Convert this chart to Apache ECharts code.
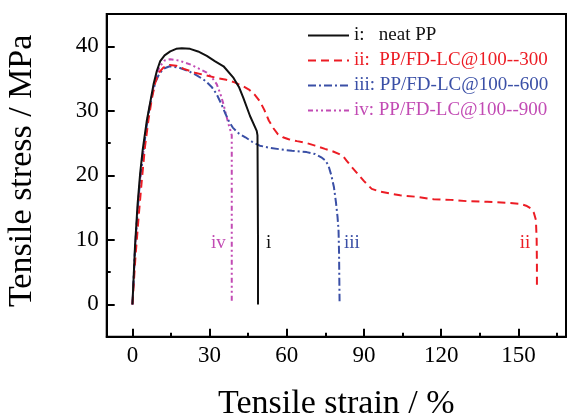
<!DOCTYPE html>
<html>
<head>
<meta charset="utf-8">
<script src="https://cdn.jsdelivr.net/npm/echarts@6/dist/echarts.min.js"></script>
<style>
  html, body { margin: 0; padding: 0; background: #fff; }
  #chart { width: 567px; height: 415px; }
</style>
</head>
<body>
<div id="chart"></div>
<script>
// strain (%) / stress (MPa)
const neatPP = [
  [0, 0], [1, 9], [2, 15.5], [3, 20.3], [4, 24], [5.6, 28.5], [7, 31.5], [8.2, 34.1],
  [9.5, 36.2], [10.8, 37.7], [12.5, 38.6], [14.7, 39.2], [17, 39.6], [19.2, 39.7],
  [22.4, 39.6], [25.5, 39.2], [28.9, 38.5], [32, 37.7], [35.4, 36.9], [39.3, 35.1],
  [41.5, 33.6], [43.1, 32.0], [45.7, 29.2], [48.3, 26.9], [48.6, 26.2], [48.8, 10], [48.8, 0]
];
const lc300 = [
  [0, 0], [1.2, 7.5], [2.5, 14], [3.7, 19.5], [4.9, 24.5], [6.3, 28.8], [7.6, 32], [8.9, 34.4],
  [10.3, 35.9], [12, 36.7], [14.5, 37.1], [17, 37.0], [20, 36.5], [24.3, 35.9], [28.5, 35.5],
  [32.7, 35.1], [36.5, 34.8], [39.7, 34.4], [42.5, 33.9], [45.3, 33.3], [47.5, 32.5],
  [49.5, 31.5], [51.3, 30.1], [53, 28.5], [54.8, 27.3], [56.5, 26.4], [58.5, 25.9],
  [60.7, 25.6], [64, 25.3], [67.7, 25.0], [71, 24.6], [74.8, 24.1], [78, 23.7], [80.4, 23.3],
  [82, 22.9], [83.2, 22.3], [85, 21.4], [87.4, 20.3], [90, 19.1], [93, 17.9], [96, 17.5],
  [100, 17.2], [104, 16.9], [109.8, 16.7], [117, 16.3], [123.8, 16.2], [130, 16.0],
  [137.9, 15.9], [145, 15.75], [150.5, 15.6], [153, 15.3], [154.7, 14.9], [156, 14.2],
  [156.8, 13.1], [157.1, 10], [157.2, 6], [157.2, 2.3]
];
const lc600 = [
  [0, 0], [1, 8.5], [2, 14.5], [3, 19.5], [4.5, 24.5], [6, 29], [7.5, 32.2], [9, 34.5],
  [10.5, 35.8], [12.5, 36.6], [14.5, 36.9], [18, 36.7], [21.5, 36.2], [25, 35.5], [28.5, 34.6],
  [30.8, 33.7], [32.7, 32.6], [34.5, 31.1], [36.2, 29.5], [37.6, 28.3], [39, 27.4], [41.3, 26.5],
  [43.9, 25.9], [46.5, 25.2], [49.5, 24.6], [53, 24.3], [57.9, 24.0], [62, 23.8], [67.7, 23.6],
  [71, 23.3], [73.4, 22.8], [75, 22.3], [76.2, 21.5], [77.3, 20.0], [78.3, 18.2], [79.1, 15.8],
  [79.7, 13.6], [80.1, 11.5], [80.3, 8], [80.4, 4], [80.5, 0.5]
];
const lc900 = [
  [0, 0], [1, 8.5], [2, 14.5], [3, 19.5], [4.5, 24.5], [6, 29], [7.5, 32.5], [9, 35],
  [10.5, 36.8], [12.5, 37.8], [14.7, 38.0], [18, 37.8], [22.4, 37.2], [25.5, 36.6],
  [28.9, 35.9], [31, 35.1], [32.8, 34.1], [34.2, 32.6], [35.4, 31.0], [36.4, 29.4],
  [37.3, 28.0], [38.2, 26.8], [38.6, 26.2], [38.6, 10], [38.6, 0.5]
];

const seriesNames = ['i:   neat PP', 'ii:  PP/FD-LC@100--300', 'iii: PP/FD-LC@100--600', 'iv: PP/FD-LC@100--900'];
const curveTags = ['i', 'ii', 'iii', 'iv'];
const tagPos = [[52.9, 9.5], [152.6, 9.5], [85.3, 9.5], [33.4, 9.5]];
const colors = ['#111111', '#ec1c24', '#3a4fa6', '#c24bb4'];
const dashes = ['solid', [8, 5], [8, 3, 2, 3], [5, 3, 2, 3, 2, 3]];
const allData = [neatPP, lc300, lc600, lc900];

const xRange = [-10, 168.5];
const yRange = [-5, 45];
const xMajor = [0, 30, 60, 90, 120, 150];
const xMinor = [15, 45, 75, 105, 135, 165];
const yMajor = [0, 10, 20, 30, 40];
const yMinor = [5, 15, 25, 35];

const font = 'Liberation Serif';
const chart = echarts.init(document.getElementById('chart'));

const gridRect = { left: 106.7, top: 14, right: 1, bottom: 78.3, outerBoundsMode: 'none', containLabel: false };
const tickStyle = { width: 2, color: '#000' };

// tick-only axes living on helper grids (1: major ticks, 2: minor ticks)
function tickAxis(gridIndex, range, values, len) {
  return {
    type: 'value',
    gridIndex,
    min: range[0], max: range[1],
    splitLine: { show: false },
    axisLine: { show: false, onZero: false },
    axisTick: { show: true, inside: true, length: len, customValues: values, lineStyle: tickStyle },
    axisLabel: { show: false },
  };
}

chart.setOption({
  animation: false,
  grid: [
    { ...gridRect, show: true, borderColor: '#000', borderWidth: 2 },
    { ...gridRect, show: false },
    { ...gridRect, show: false },
  ],
  legend: {
    orient: 'vertical',
    left: 307,
    top: 26,
    padding: 0,
    itemWidth: 41,
    itemHeight: 14,
    itemGap: 6,
    itemStyle: { opacity: 0 },
    textStyle: { fontFamily: font, fontSize: 19 },
    data: seriesNames.map((n, i) => ({ name: n, textStyle: { color: colors[i] } })),
  },
  xAxis: [
    {
      type: 'value',
      min: xRange[0], max: xRange[1],
      splitLine: { show: false },
      axisLine: { show: true, onZero: false, lineStyle: { color: '#000', width: 2 } },
      name: 'Tensile strain / %',
      nameLocation: 'middle',
      nameGap: 50,
      nameTextStyle: { fontFamily: font, fontSize: 34, color: '#000' },
      axisTick: { show: false },
      axisLabel: { customValues: xMajor, margin: 8, fontFamily: font, fontSize: 23, color: '#000' },
    },
    tickAxis(1, xRange, xMajor, 8),
    tickAxis(2, xRange, xMinor, 4),
  ],
  yAxis: [
    {
      type: 'value',
      min: yRange[0], max: yRange[1],
      splitLine: { show: false },
      axisLine: { show: true, onZero: false, lineStyle: { color: '#000', width: 2 } },
      name: 'Tensile stress / MPa',
      nameLocation: 'middle',
      nameGap: 68,
      nameTextStyle: { fontFamily: font, fontSize: 34, color: '#000', padding: [0, 0, 0, 9] },
      axisTick: { show: false },
      axisLabel: { customValues: yMajor, margin: 8, fontFamily: font, fontSize: 23, color: '#000' },
    },
    tickAxis(1, yRange, yMajor, 8),
    tickAxis(2, yRange, yMinor, 4),
  ],
  series: allData.map((d, i) => ({
    name: seriesNames[i],
    type: 'line',
    data: d,
    symbol: 'none',
    color: colors[i],
    lineStyle: { color: colors[i], width: 2, type: dashes[i] },
    z: 4 - i,
    markPoint: {
      symbol: 'circle',
      symbolSize: 0,
      data: [{ coord: tagPos[i], value: curveTags[i] }],
      label: {
        show: true, position: 'inside', formatter: curveTags[i],
        fontFamily: font, fontSize: 19, color: colors[i],
      },
    },
  })),
});
</script>
</body>
</html>
